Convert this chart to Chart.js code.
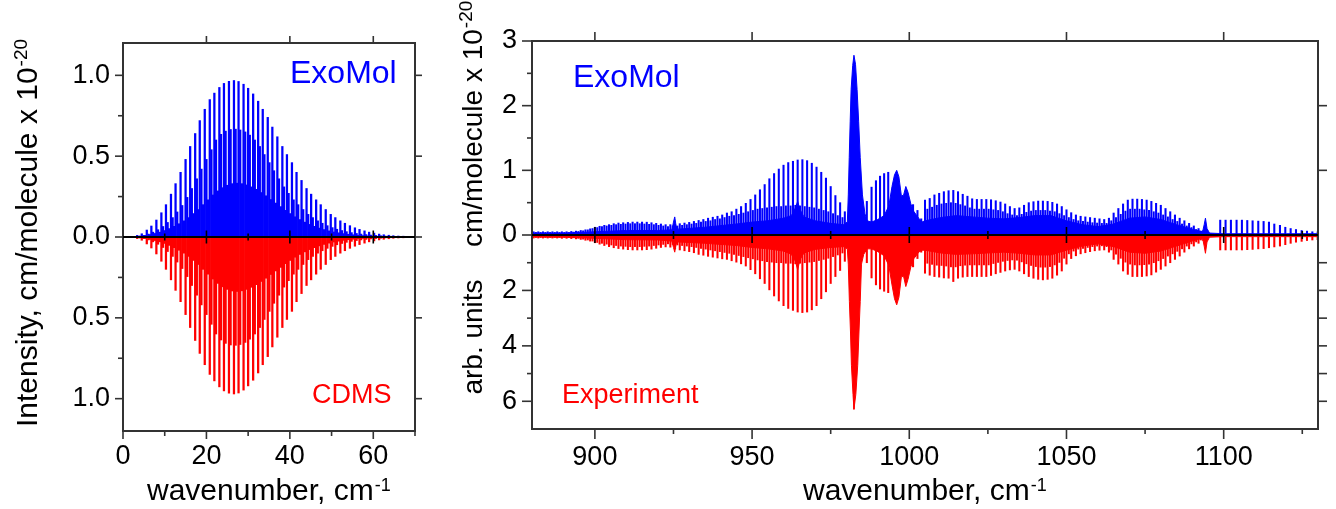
<!DOCTYPE html>
<html><head><meta charset="utf-8">
<script src="https://cdn.jsdelivr.net/npm/chart.js@4/dist/chart.umd.min.js"></script>
<style>
body{margin:0;background:#fff;width:1336px;height:509px;overflow:hidden;position:relative}
#a{position:absolute;left:0;top:0;width:440px;height:509px}
#b{position:absolute;left:440px;top:0;width:896px;height:509px}
</style></head><body>
<div id="a"><canvas id="ca"></canvas></div>
<div id="b"><canvas id="cb"></canvas></div>
<script>
// ---------- Left panel: rotational band (0-70 cm-1) ----------
const lPosT = [2.2,3.4,4.5,5.7,6.8,8.0,9.2,10.3,11.5,12.6,13.8,15.0,16.1,17.3,18.4,19.6,20.8,21.9,23.1,24.2,25.4,26.6,27.7,28.9,30.0,31.2,32.4,33.5,34.7,35.8,37.0,38.2,39.3,40.5,41.6,42.8,44.0,45.1,46.3,47.4,48.6,49.8,50.9,52.1,53.2,54.4,55.6,56.7,57.9,59.0,60.2,61.4,62.5,63.7,64.8,66.0,67.2,68.3,69.5];
const exoT = [0.004,0.010,0.020,0.043,0.068,0.105,0.150,0.200,0.265,0.330,0.400,0.480,0.560,0.640,0.720,0.790,0.850,0.890,0.925,0.950,0.963,0.968,0.962,0.945,0.920,0.885,0.840,0.790,0.740,0.680,0.620,0.560,0.510,0.460,0.400,0.350,0.300,0.265,0.230,0.200,0.170,0.140,0.120,0.100,0.085,0.070,0.057,0.047,0.038,0.030,0.024,0.018,0.014,0.011,0.008,0.006,0.005,0.004,0.003];
const cdmsT = [0.004,0.010,0.020,0.043,0.068,0.105,0.150,0.200,0.265,0.330,0.400,0.480,0.560,0.640,0.720,0.790,0.850,0.890,0.927,0.952,0.966,0.971,0.965,0.947,0.921,0.886,0.841,0.790,0.740,0.680,0.620,0.560,0.510,0.460,0.400,0.350,0.300,0.265,0.230,0.200,0.170,0.140,0.120,0.100,0.085,0.070,0.057,0.047,0.038,0.030,0.024,0.018,0.014,0.011,0.008,0.006,0.005,0.004,0.003];
const lPosM = [2.6,3.8,4.9,6.1,7.2,8.4,9.6,10.7,11.9,13.0,14.2,15.4,16.5,17.7,18.8,20.0,21.2,22.3,23.5,24.6,25.8,27.0,28.1,29.3,30.4,31.6,32.8,33.9,35.1,36.2,37.4,38.6,39.7,40.9,42.0,43.2,44.4,45.5,46.7,47.8,49.0,50.2,51.3,52.5,53.6,54.8,56.0,57.1,58.3,59.4,60.6,61.8,62.9,64.1,65.2,66.4,67.6,68.7,69.9];
const exoM = [0.002,0.005,0.010,0.018,0.030,0.045,0.065,0.090,0.120,0.155,0.195,0.245,0.300,0.360,0.420,0.480,0.540,0.600,0.635,0.655,0.665,0.667,0.662,0.650,0.630,0.600,0.560,0.510,0.460,0.410,0.360,0.310,0.270,0.230,0.200,0.170,0.140,0.120,0.100,0.085,0.070,0.058,0.048,0.040,0.033,0.027,0.022,0.018,0.015,0.012,0.010,0.008,0.006,0.005,0.004,0.003,0.002,0.002,0.001];
const cdmsM = [0.002,0.005,0.010,0.018,0.030,0.045,0.065,0.090,0.120,0.155,0.195,0.245,0.300,0.360,0.420,0.480,0.540,0.600,0.637,0.658,0.668,0.670,0.665,0.652,0.632,0.600,0.560,0.510,0.460,0.410,0.360,0.310,0.270,0.230,0.200,0.170,0.140,0.120,0.100,0.085,0.070,0.058,0.048,0.040,0.033,0.027,0.022,0.018,0.015,0.012,0.010,0.008,0.006,0.005,0.004,0.003,0.002,0.002,0.001];
const lPosL = [3.0,4.2,5.3,6.5,7.6,8.8,10.0,11.1,12.3,13.4,14.6,15.8,16.9,18.1,19.2,20.4,21.6,22.7,23.9,25.0,26.2,27.4,28.5,29.7,30.8,32.0,33.2,34.3,35.5,36.6,37.8,39.0,40.1,41.3,42.4,43.6,44.8,45.9,47.1,48.2,49.4,50.6,51.7,52.9,54.0,55.2,56.4,57.5,58.7,59.8,61.0,62.2,63.3,64.5,65.6,66.8,68.0,69.1];
const exoL = [0.003,0.006,0.010,0.015,0.022,0.030,0.040,0.052,0.066,0.082,0.100,0.120,0.145,0.170,0.200,0.230,0.260,0.285,0.305,0.320,0.330,0.333,0.330,0.322,0.310,0.295,0.275,0.255,0.232,0.210,0.188,0.165,0.145,0.125,0.108,0.092,0.078,0.066,0.055,0.046,0.038,0.031,0.026,0.021,0.017,0.014,0.011,0.009,0.007,0.006,0.005,0.004,0.003,0.003,0.002,0.002,0.002,0.001];
const cdmsL = [0.003,0.006,0.010,0.015,0.022,0.030,0.040,0.052,0.066,0.082,0.100,0.120,0.145,0.170,0.200,0.230,0.260,0.287,0.308,0.324,0.334,0.337,0.333,0.324,0.311,0.295,0.275,0.255,0.232,0.210,0.188,0.165,0.145,0.125,0.108,0.092,0.078,0.066,0.055,0.046,0.038,0.031,0.026,0.021,0.017,0.014,0.011,0.009,0.007,0.006,0.005,0.004,0.003,0.003,0.002,0.002,0.002,0.001];
const lXTicks = [0,20,40,60];
const lYTicks = [-1,-0.5,0,0.5,1];

// ---------- Right panel: 880-1130 cm-1 ----------
// strongest resolved lines
const rPos = [880.5,882.0,883.5,885.0,886.5,888.0,889.5,891.0,892.5,894.0,895.5,897.0,898.5,900.0,901.5,903.0,904.5,906.0,907.5,909.0,910.5,912.0,913.5,915.0,916.5,918.0,919.5,921.0,922.5,924.0,925.5,927.0,928.5,930.0,931.5,933.0,934.5,936.0,937.5,939.0,940.5,942.0,943.5,945.0,946.5,948.0,949.5,951.0,952.5,954.0,955.5,957.0,958.5,960.0,961.5,963.0,964.5,966.0,967.5,969.0,970.5,972.0,973.5,975.0,976.5,978.0,979.5,
 986.5,988.0,989.4,990.7,992.0,993.3,
 1001.2,1002.6,1003.8,
 1005.0,1006.5,1008.0,1009.5,1011.0,1012.5,1014.0,1015.5,1017.0,1018.5,1020.0,1021.5,1023.0,1024.5,1026.0,1027.5,1029.0,1030.5,1032.0,1033.5,1035.0,1036.5,1038.0,1039.5,1041.0,1042.5,1044.0,1045.5,1047.0,1048.5,1050.0,1051.5,1053.0,1054.5,1056.0,1057.5,1059.0,1060.5,1062.0,1063.5,1065.0,1066.5,1068.0,1069.5,1071.0,1072.5,1074.0,1075.5,1077.0,1078.5,1080.0,1081.5,1083.0,1084.5,1086.0,1087.5,1089.0,1090.5,1092.0,1093.5,
 1098.9,1100.6,1102.3,1104.1,1105.8,1107.5,1109.2,1111.0,1112.7,1114.4,1116.1,1117.9,1119.6,1121.3,1123.0,1124.8,1126.5,1128.2,1129.9];
const exoR = [0.05,0.05,0.05,0.05,0.05,0.05,0.05,0.05,0.055,0.06,0.07,0.08,0.095,0.12,0.135,0.15,0.16,0.175,0.185,0.19,0.195,0.2,0.2,0.2,0.198,0.19,0.18,0.17,0.16,0.16,0.165,0.175,0.185,0.195,0.21,0.225,0.24,0.26,0.275,0.29,0.31,0.34,0.36,0.4,0.44,0.49,0.55,0.62,0.7,0.78,0.87,0.95,1.02,1.08,1.12,1.14,1.16,1.165,1.15,1.11,1.05,0.97,0.88,0.75,0.61,0.5,0.36,
 0.52,0.74,0.84,0.91,0.95,0.97,
 0.47,0.38,0.25,
 0.54,0.565,0.62,0.645,0.67,0.685,0.69,0.67,0.63,0.6,0.56,0.55,0.55,0.55,0.545,0.53,0.51,0.48,0.44,0.41,0.42,0.46,0.5,0.515,0.525,0.525,0.52,0.505,0.48,0.44,0.39,0.345,0.31,0.29,0.28,0.27,0.26,0.25,0.24,0.26,0.34,0.41,0.48,0.54,0.555,0.555,0.55,0.54,0.52,0.49,0.46,0.41,0.36,0.31,0.26,0.22,0.18,0.14,0.1,0.07,
 0.23,0.23,0.23,0.23,0.23,0.225,0.22,0.215,0.21,0.2,0.17,0.15,0.12,0.1,0.085,0.07,0.06,0.05,0.05];
const expR = [0.11,0.11,0.11,0.11,0.11,0.11,0.12,0.12,0.13,0.14,0.16,0.19,0.22,0.28,0.33,0.38,0.42,0.46,0.49,0.51,0.53,0.54,0.54,0.54,0.53,0.51,0.48,0.45,0.43,0.44,0.5,0.54,0.57,0.6,0.64,0.7,0.73,0.77,0.8,0.83,0.86,0.88,0.93,0.98,1.04,1.12,1.25,1.4,1.58,1.75,1.98,2.2,2.38,2.55,2.65,2.72,2.78,2.8,2.78,2.7,2.55,2.3,2.05,1.75,1.5,1.28,0.95,
 1.0,1.55,1.8,1.95,2.03,2.08,
 1.15,0.85,0.62,
 1.38,1.45,1.5,1.52,1.55,1.56,1.68,1.56,1.52,1.5,1.5,1.5,1.5,1.5,1.46,1.4,1.35,1.3,1.26,1.24,1.3,1.4,1.5,1.56,1.6,1.62,1.6,1.56,1.45,1.3,1.05,0.85,0.75,0.68,0.64,0.6,0.57,0.55,0.54,0.62,0.88,1.05,1.3,1.42,1.5,1.5,1.5,1.48,1.44,1.34,1.24,1.12,1.0,0.88,0.76,0.62,0.5,0.4,0.3,0.2,
 0.54,0.54,0.54,0.54,0.54,0.53,0.52,0.5,0.49,0.46,0.43,0.4,0.35,0.3,0.26,0.23,0.2,0.18,0.17];
// weaker lines between them
const rPos2 = [881.25,882.75,884.25,885.75,887.25,888.75,890.25,891.75,893.25,894.75,896.25,897.75,899.25,900.75,902.25,903.75,905.25,906.75,908.25,909.75,911.25,912.75,914.25,915.75,917.25,918.75,920.25,921.75,923.25,924.75,926.25,927.75,929.25,930.75,932.25,933.75,935.25,936.75,938.25,939.75,941.25,942.75,944.25,945.75,947.25,948.75,950.25,951.75,953.25,954.75,956.25,957.75,959.25,960.75,962.25,963.75,965.25,966.75,968.25,969.75,971.25,972.75,974.25,975.75,977.25,978.75,
 1005.75,1007.25,1008.75,1010.25,1011.75,1013.25,1014.75,1016.25,1017.75,1019.25,1020.75,1022.25,1023.75,1025.25,1026.75,1028.25,1029.75,1031.25,1032.75,1034.25,1035.75,1037.25,1038.75,1040.25,1041.75,1043.25,1044.75,1046.25,1047.75,1049.25,1050.75,1052.25,1053.75,1055.25,1056.75,1058.25,1059.75,1061.25,1062.75,1064.25,1065.75,1067.25,1068.75,1070.25,1071.75,1073.25,1074.75,1076.25,1077.75,1079.25,1080.75,1082.25,1083.75,1085.25,1086.75,1088.25,1089.75,1091.25,1092.75];
const exoR2 = [0.04,0.04,0.04,0.04,0.04,0.04,0.04,0.04,0.045,0.055,0.065,0.08,0.1,0.115,0.13,0.14,0.15,0.16,0.165,0.17,0.175,0.175,0.175,0.17,0.165,0.16,0.15,0.14,0.13,0.14,0.14,0.15,0.16,0.17,0.18,0.2,0.21,0.22,0.24,0.25,0.27,0.29,0.3,0.32,0.34,0.36,0.38,0.4,0.41,0.42,0.43,0.44,0.44,0.45,0.45,0.46,0.45,0.44,0.43,0.42,0.4,0.38,0.36,0.33,0.3,0.27,
 0.4,0.43,0.46,0.48,0.49,0.5,0.49,0.47,0.45,0.42,0.4,0.4,0.4,0.4,0.39,0.38,0.36,0.33,0.31,0.3,0.32,0.35,0.37,0.38,0.38,0.38,0.37,0.36,0.33,0.3,0.27,0.24,0.22,0.21,0.2,0.19,0.185,0.18,0.18,0.22,0.27,0.32,0.37,0.4,0.4,0.4,0.39,0.38,0.36,0.34,0.31,0.28,0.24,0.21,0.17,0.14,0.115,0.085,0.06];
const expR2 = [0.09,0.09,0.09,0.09,0.09,0.09,0.09,0.09,0.1,0.12,0.15,0.18,0.22,0.27,0.3,0.33,0.36,0.38,0.4,0.41,0.42,0.42,0.42,0.41,0.4,0.38,0.36,0.34,0.32,0.34,0.36,0.38,0.4,0.42,0.45,0.48,0.51,0.54,0.57,0.6,0.63,0.66,0.7,0.74,0.78,0.82,0.86,0.9,0.93,0.96,0.98,1.0,1.0,1.02,1.02,1.04,1.02,1.0,0.98,0.96,0.92,0.88,0.84,0.78,0.72,0.65,
 1.02,1.06,1.09,1.1,1.12,1.15,1.15,1.11,1.09,1.08,1.08,1.08,1.08,1.08,1.03,0.99,0.95,0.92,0.9,0.91,0.97,1.04,1.1,1.14,1.16,1.16,1.14,1.08,0.99,0.84,0.68,0.58,0.51,0.48,0.45,0.42,0.4,0.39,0.42,0.54,0.69,0.84,0.98,1.05,1.08,1.08,1.07,1.05,1.0,0.93,0.85,0.76,0.68,0.59,0.5,0.4,0.32,0.25,0.18];
// dense unresolved part (Q-branches and line forest)
const denseExoX = [880,890,900,910,920,924.5,925.0,925.4,925.8,926.5,935,945,950,955,960,962.5,963.8,964.5,965.2,966.5,970,975,979,980.3,980.6,980.9,981.2,981.5,982.0,982.4,982.9,983.4,983.9,984.4,985.1,985.9,986.6,988.0,990.0,992.0,993.5,994.5,995.3,996.0,996.7,997.5,998.2,998.9,999.6,1000.5,1001.5,1003.0,1004.0,1005,1010,1015,1020,1025,1030,1035,1040,1045,1050,1055,1060,1065,1070,1075,1080,1085,1090,1093.3,1093.8,1094.2,1094.7,1095.5,1100,1110,1120,1130];
const denseExoY = [0.03,0.03,0.05,0.07,0.07,0.08,0.2,0.28,0.15,0.09,0.12,0.17,0.2,0.22,0.26,0.3,0.42,0.52,0.4,0.28,0.22,0.18,0.16,0.2,0.62,1.2,1.75,2.25,2.62,2.78,2.64,2.25,1.75,1.2,0.62,0.33,0.22,0.2,0.24,0.3,0.45,0.75,0.93,1.0,0.9,0.6,0.62,0.75,0.66,0.48,0.36,0.26,0.2,0.22,0.27,0.3,0.28,0.26,0.25,0.27,0.3,0.3,0.22,0.16,0.13,0.17,0.26,0.28,0.24,0.16,0.09,0.05,0.16,0.26,0.1,0.03,0.02,0.02,0.02,0.02];
const denseExpX = [880,890,900,910,920,924.5,925.0,925.4,925.8,926.5,935,945,950,955,960,962.5,963.8,964.5,965.2,966.5,970,975,979,980.3,980.6,980.95,981.3,981.6,982.1,982.4,983.0,983.6,984.0,984.4,984.8,985.5,986.6,988,990,992,993.5,994.5,995.3,996.0,996.7,997.5,998.2,998.9,999.6,1000.5,1001.5,1003.0,1004.0,1005,1010,1015,1020,1025,1030,1035,1040,1045,1050,1055,1060,1065,1070,1075,1080,1085,1090,1093.3,1093.8,1094.2,1094.7,1095.5,1100,1110,1120,1130];
const denseExpY = [0.07,0.08,0.12,0.17,0.18,0.22,0.45,0.62,0.35,0.25,0.3,0.38,0.45,0.5,0.58,0.7,0.95,1.26,0.9,0.65,0.52,0.45,0.42,0.5,1.05,2.4,3.5,4.7,5.75,6.29,5.75,4.7,3.5,2.4,1.05,0.7,0.5,0.5,0.6,0.75,1.1,1.8,2.3,2.52,2.25,1.5,1.5,1.86,1.6,1.15,0.85,0.62,0.55,0.55,0.65,0.7,0.68,0.65,0.62,0.66,0.72,0.72,0.55,0.4,0.32,0.42,0.62,0.66,0.58,0.4,0.22,0.12,0.4,0.66,0.25,0.08,0.06,0.06,0.06,0.06];
const rXTicks = [900,950,1000,1050,1100];
const rUpTicks = [0,1,2,3];      // cm/molecule x 10^-20
const rLowTicks = [2,4,6];       // arb. units

// ---------- helpers ----------
const FF = '"Liberation Sans", Arial, Helvetica, sans-serif';
Chart.defaults.font.family = FF;
Chart.defaults.color = '#000';
const BLUE = '#0000ff', RED = '#ff0000';
const pts = (xs, ys, s) => xs.map((x, i) => ({x: x, y: s * ys[i]}));
function sticks(xs, ys, s, color, w, axis) {
  return {type: 'bar', data: pts(xs, ys, s), backgroundColor: color, borderWidth: 0,
    barThickness: w, grouped: false, yAxisID: axis || 'y', order: 1};
}
function area(xs, ys, s, color, axis) {
  return {type: 'line', data: pts(xs, ys, s), backgroundColor: color, borderColor: color,
    borderWidth: 1, pointRadius: 0, fill: 'origin', tension: 0, yAxisID: axis || 'y', order: 2};
}
function seg(ctx, x1, y1, x2, y2) { ctx.beginPath(); ctx.moveTo(x1, y1); ctx.lineTo(x2, y2); ctx.stroke(); }
function supText(ctx, x, y, main, sup, size, supSize, raise, color) {
  ctx.fillStyle = color; ctx.textAlign = 'left'; ctx.textBaseline = 'alphabetic';
  ctx.font = size + 'px ' + FF; ctx.fillText(main, x, y);
  const w = ctx.measureText(main).width;
  ctx.font = supSize + 'px ' + FF; ctx.fillText(sup, x + w + 1, y - raise);
}
function plain(ctx, x, y, txt, size, color, align) {
  ctx.fillStyle = color; ctx.textAlign = align || 'left'; ctx.textBaseline = 'alphabetic';
  ctx.font = size + 'px ' + FF; ctx.fillText(txt, x, y);
}
const setTicks = vals => s => { s.ticks = vals.map(v => ({value: v})); };

// ---------- left chart ----------
const deco1 = {id: 'deco1', afterDraw(chart) {
  const {ctx, chartArea: a, scales: {x, y}} = chart;
  ctx.save();
  ctx.lineCap = 'butt';
  ctx.strokeStyle = '#333'; ctx.lineWidth = 1.6;
  [-1, -0.5, 0, 0.5, 1].forEach(v => { const p = y.getPixelForValue(v); seg(ctx, a.left - 8, p, a.left, p); seg(ctx, a.right, p, a.right + 7, p); });
  [-0.75, -0.25, 0.25, 0.75].forEach(v => { const p = y.getPixelForValue(v); seg(ctx, a.left - 5, p, a.left, p); });
  [0, 20, 40, 60].forEach(v => { const p = x.getPixelForValue(v); seg(ctx, p, a.bottom, p, a.bottom + 8); if (v > 0) seg(ctx, p, a.top - 7, p, a.top); });
  [10, 30, 50, 70].forEach(v => { const p = x.getPixelForValue(v); seg(ctx, p, a.bottom, p, a.bottom + 5); });
  ctx.lineWidth = 2; ctx.strokeRect(a.left, a.top, a.right - a.left, a.bottom - a.top);
  const y0 = y.getPixelForValue(0);
  ctx.strokeStyle = '#000'; ctx.lineWidth = 2.2; seg(ctx, a.left, y0, a.right, y0);
  ctx.lineWidth = 1.6;
  [20, 40, 60].forEach(v => { const p = x.getPixelForValue(v); seg(ctx, p, y0 - 6.5, p, y0 + 6.5); });
  [10, 30, 50].forEach(v => { const p = x.getPixelForValue(v); seg(ctx, p, y0 - 3.5, p, y0 + 3.5); });
  plain(ctx, 290, 83, 'ExoMol', 32, BLUE);
  plain(ctx, 312, 403, 'CDMS', 27, RED);
  supText(ctx, 147, 500, 'wavenumber, cm', '-1', 30, 18, 9, '#000');
  ctx.save(); ctx.translate(37, 427); ctx.rotate(-Math.PI / 2);
  supText(ctx, 0, 0, 'Intensity, cm/molecule x 10', '-20', 30, 19, 10, '#000');
  ctx.restore();
  ctx.restore();
}};

new Chart(document.getElementById('ca'), {
  type: 'bar',
  data: {datasets: [
    sticks(lPosL, exoL, 1, BLUE, 2.6), sticks(lPosM, exoM, 1, BLUE, 1.6), sticks(lPosT, exoT, 1, BLUE, 1.6),
    sticks(lPosL, cdmsL, -1, RED, 2.6), sticks(lPosM, cdmsM, -1, RED, 1.6), sticks(lPosT, cdmsT, -1, RED, 1.6)
  ]},
  options: {
    responsive: true, maintainAspectRatio: false, animation: false, events: [],
    layout: {padding: {top: 43, right: 25, left: 0, bottom: 0}},
    plugins: {legend: {display: false}, tooltip: {enabled: false}},
    scales: {
      x: {type: 'linear', min: 0, max: 70, offset: false,
        grid: {display: false, drawTicks: false}, border: {display: false},
        ticks: {font: {size: 27}, color: '#000', padding: 9, maxRotation: 0, autoSkip: false,
          callback: v => String(v)},
        afterBuildTicks: setTicks(lXTicks), afterFit: s => { s.height = 78; }},
      y: {type: 'linear', min: -1.2, max: 1.2,
        grid: {display: false, drawTicks: false}, border: {display: false},
        ticks: {font: {size: 27}, color: '#000', padding: 13, autoSkip: false,
          callback: v => Math.abs(v).toFixed(1)},
        afterBuildTicks: setTicks(lYTicks), afterFit: s => { s.width = 123; }}
    }
  },
  plugins: [deco1]
});

// ---------- right chart ----------
const K = 3 / 7; // upper scale (0..3) and lower scale (0..7) have equal half-heights
const deco2 = {id: 'deco2', afterDraw(chart) {
  const {ctx, chartArea: a, scales: {x, y, yr}} = chart;
  ctx.save();
  ctx.strokeStyle = '#333'; ctx.lineWidth = 1.6;
  rUpTicks.forEach(v => { const p = y.getPixelForValue(v); seg(ctx, a.left - 10, p, a.left, p); if (v > 0 && v < 3) seg(ctx, a.right, p, a.right + 9, p); });
  [0.5, 1.5, 2.5].forEach(v => { const p = y.getPixelForValue(v); seg(ctx, a.left - 5, p, a.left, p); });
  rLowTicks.forEach(v => { const p = yr.getPixelForValue(-v); seg(ctx, a.left - 10, p, a.left, p); });
  [1, 3, 5].forEach(v => { const p = yr.getPixelForValue(-v); seg(ctx, a.left - 5, p, a.left, p); });
  [1, 2, 3, 4, 5, 6].forEach(v => { const p = yr.getPixelForValue(-v); seg(ctx, a.right, p, a.right + 9, p); });
  rXTicks.forEach(v => { const p = x.getPixelForValue(v); seg(ctx, p, a.bottom, p, a.bottom + 10); seg(ctx, p, a.top - 9, p, a.top); });
  [925, 975, 1025, 1075, 1125].forEach(v => { const p = x.getPixelForValue(v); seg(ctx, p, a.bottom, p, a.bottom + 5); });
  ctx.lineWidth = 2; ctx.strokeRect(a.left, a.top, a.right - a.left, a.bottom - a.top);
  const y0 = y.getPixelForValue(0);
  ctx.strokeStyle = '#000'; ctx.lineWidth = 2.2; seg(ctx, a.left, y0, a.right, y0);
  ctx.lineWidth = 1.6;
  rXTicks.forEach(v => { const p = x.getPixelForValue(v); seg(ctx, p, y0 - 8, p, y0 + 8); });
  [925, 975, 1025, 1075, 1125].forEach(v => { const p = x.getPixelForValue(v); seg(ctx, p, y0 - 4, p, y0 + 4); });
  plain(ctx, 133, 87, 'ExoMol', 32, BLUE);
  plain(ctx, 122, 403, 'Experiment', 27, RED);
  supText(ctx, 363, 500, 'wavenumber, cm', '-1', 30, 18, 9, '#000');
  ctx.save(); ctx.translate(42, 247); ctx.rotate(-Math.PI / 2);
  supText(ctx, 0, 0, 'cm/molecule x 10', '-20', 28, 19, 10, '#000');
  ctx.restore();
  ctx.save(); ctx.translate(42, 337); ctx.rotate(-Math.PI / 2);
  plain(ctx, 0, 0, 'arb. units', 28, '#000', 'center');
  ctx.restore();
  ctx.restore();
}};

new Chart(document.getElementById('cb'), {
  type: 'bar',
  data: {datasets: [
    area(denseExoX, denseExoY, 1, BLUE, 'y'),
    area(denseExpX, denseExpY, -1, RED, 'yr'),
    sticks(rPos2, exoR2, 1, BLUE, 1.3, 'y'),
    sticks(rPos2, expR2, -1, RED, 1.3, 'yr'),
    sticks(rPos, exoR, 1, BLUE, 1.4, 'y'),
    sticks(rPos, expR, -1, RED, 1.4, 'yr')
  ]},
  options: {
    responsive: true, maintainAspectRatio: false, animation: false, events: [],
    layout: {padding: {top: 41, right: 18, left: 0, bottom: 0}},
    plugins: {legend: {display: false}, tooltip: {enabled: false}},
    scales: {
      x: {type: 'linear', min: 880, max: 1130, offset: false,
        grid: {display: false, drawTicks: false}, border: {display: false},
        ticks: {font: {size: 27}, color: '#000', padding: 12, maxRotation: 0, autoSkip: false,
          callback: v => String(v)},
        afterBuildTicks: setTicks(rXTicks), afterFit: s => { s.height = 80; }},
      y: {type: 'linear', min: -3, max: 3,
        grid: {display: false, drawTicks: false}, border: {display: false},
        ticks: {font: {size: 27}, color: '#000', padding: 15, autoSkip: false,
          callback: v => v >= 0 ? String(Math.round(v)) : String(Math.round(-v / K))},
        afterBuildTicks: setTicks(rUpTicks.concat(rLowTicks.map(v => -v * K))),
        afterFit: s => { s.width = 92; }},
      yr: {type: 'linear', min: -7, max: 7, display: false}
    }
  },
  plugins: [deco2]
});
</script>
</body></html>
